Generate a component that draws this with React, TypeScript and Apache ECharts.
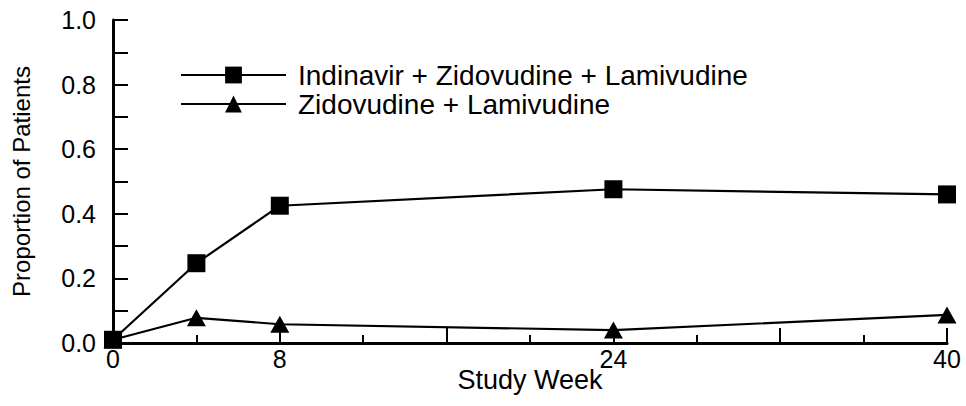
import React, { useEffect, useRef } from "react";
import * as echarts from "echarts";

const weeks = [0, 4, 8, 24, 40];
const tripleValues = [0.01, 0.247, 0.425, 0.476, 0.46];
const dualValues = [0.01, 0.078, 0.058, 0.04, 0.087];
const seriesNames = ["Indinavir + Zidovudine + Lamivudine", "Zidovudine + Lamivudine"];
const xLabelWeeks = [0, 8, 24, 40];
const FONT = "Liberation Sans, Arial, sans-serif";

export default function App() {
  const ref = useRef<HTMLDivElement>(null);
  useEffect(() => {
    if (!ref.current) return;
    const chart = echarts.init(ref.current, undefined, { renderer: "svg" });
    const axisLine = { lineStyle: { color: "#000", width: 3 } };
    chart.setOption({
      animation: false,
      backgroundColor: "#fff",
      textStyle: { fontFamily: FONT, color: "#000" },
      grid: { left: 113, right: 19, top: 20, bottom: 63, containLabel: false },
      legend: {
        orient: "vertical",
        left: 180,
        top: 61,
        padding: 0,
        itemWidth: 105,
        itemHeight: 21,
        itemGap: 1,
        textStyle: { fontSize: 28, color: "#000", fontFamily: FONT, lineHeight: 21, padding: [0, 0, 0, 7] },
        data: seriesNames,
      },
      xAxis: {
        type: "value",
        min: 0,
        max: 40,
        interval: 8,
        name: "Study Week",
        nameLocation: "middle",
        nameGap: 23,
        nameMoveOverlap: false,
        nameTextStyle: { fontSize: 27, color: "#000", fontFamily: FONT },
        axisLine,
        axisTick: { show: true, inside: true, length: 15, lineStyle: { color: "#000", width: 2 } },
        minorTick: { show: true, splitNumber: 2, length: 8, lineStyle: { color: "#000", width: 2 } },
        splitLine: { show: false },
        minorSplitLine: { show: false },
        axisLabel: {
          fontSize: 25,
          color: "#000",
          fontFamily: FONT,
          margin: 3,
          formatter: (v: number) => (xLabelWeeks.includes(v) ? String(v) : ""),
        },
      },
      yAxis: {
        type: "value",
        min: 0,
        max: 1,
        interval: 0.2,
        name: "Proportion of Patients",
        nameLocation: "middle",
        nameGap: 80,
        nameMoveOverlap: false,
        nameTextStyle: { fontSize: 24, color: "#000", fontFamily: FONT },
        axisLine,
        axisTick: { show: true, inside: true, length: 15, lineStyle: { color: "#000", width: 2 } },
        minorTick: { show: true, splitNumber: 2, length: 15, lineStyle: { color: "#000", width: 2 } },
        splitLine: { show: false },
        minorSplitLine: { show: false },
        axisLabel: {
          fontSize: 25,
          color: "#000",
          fontFamily: FONT,
          margin: 17,
          formatter: (v: number) => v.toFixed(1),
        },
      },
      series: [
        {
          name: seriesNames[0],
          type: "line",
          data: weeks.map((w, i) => [w, tripleValues[i]]),
          symbol: "rect",
          symbolSize: 18,
          clip: false,
          lineStyle: { color: "#000", width: 2.2 },
          itemStyle: { color: "#000" },
        },
        {
          name: seriesNames[1],
          type: "line",
          data: weeks.map((w, i) => [w, dualValues[i]]),
          symbol: "triangle",
          symbolSize: [19, 17],
          clip: false,
          lineStyle: { color: "#000", width: 2.2 },
          itemStyle: { color: "#000" },
        },
      ],
    });
    return () => chart.dispose();
  }, []);
  return <div ref={ref} style={{ width: 966, height: 406, position: "absolute", left: 0, top: 0 }} />;
}
